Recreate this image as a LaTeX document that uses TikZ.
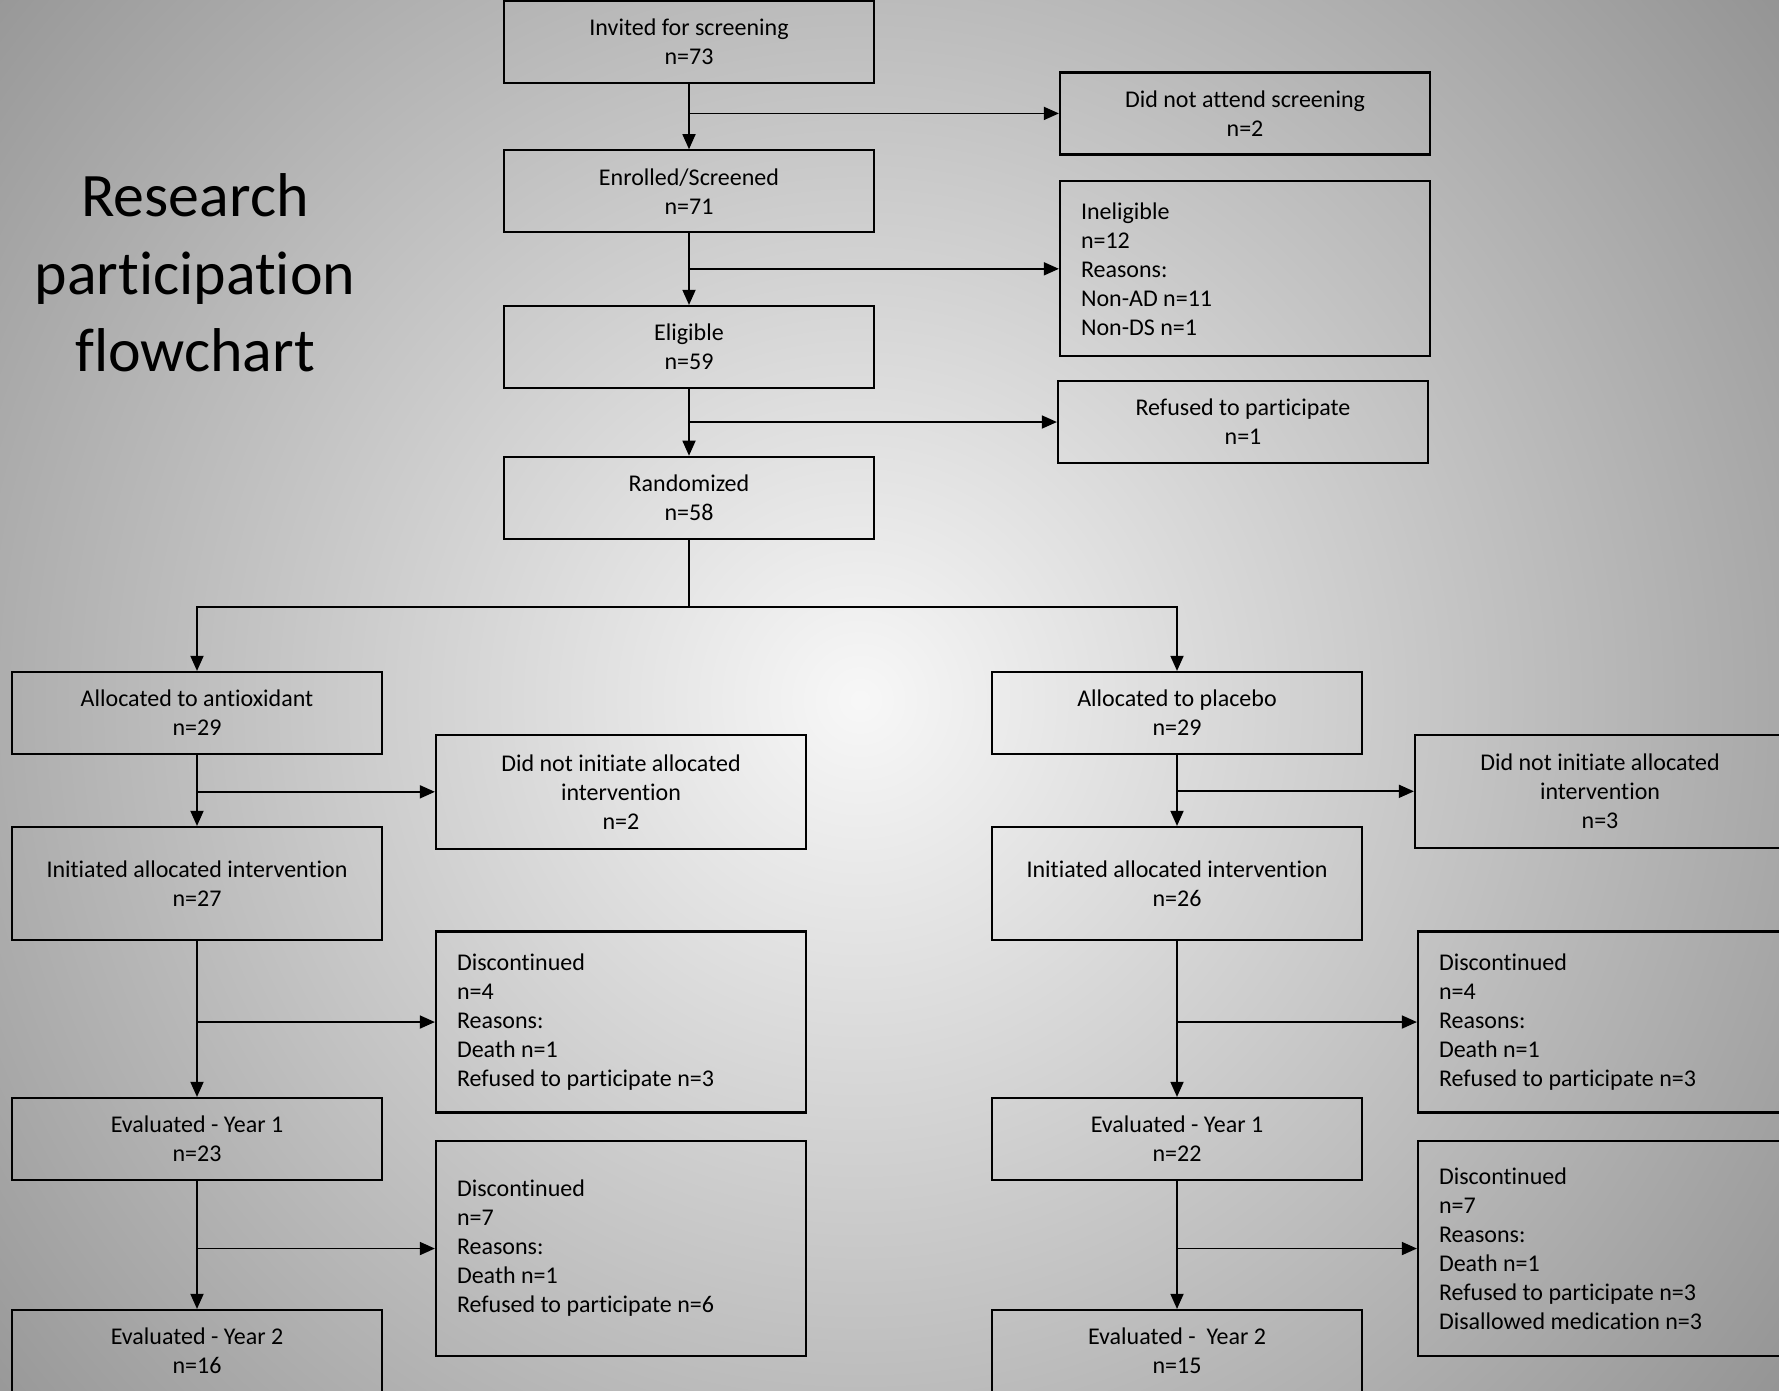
\documentclass[tikz,border=0pt]{standalone}
\usepackage{fontspec}
\setmainfont{Carlito}[Ligatures=NoCommon]
\usetikzlibrary{arrows.meta}
\newcommand{\boxfont}{\fontsize{6.83pt}{8.25pt}\selectfont}
\newcommand{\headfont}{\fontsize{17.6pt}{22pt}\selectfont}
\newcommand{\plainspace}{\spaceskip 0pt\relax\xspaceskip 0pt\relax}

\begin{document}
\begin{tikzpicture}[
  box/.style={draw, line width=0.62pt, minimum width=3.70cm,
              minimum height=0.82cm, align=center, font=\boxfont, inner sep=2pt},
  reason/.style={draw, line width=0.62pt, text width=3.28cm, inner xsep=0.21cm,
                 inner ysep=2pt, align=left, font=\boxfont,
                 execute at begin node=\plainspace},
  arr/.style={-{Triangle[length=4.3pt, width=3.7pt]}, line width=0.52pt},
  link/.style={line width=0.52pt},
  head/.style={font=\headfont, align=center}
]
  % background
  \useasboundingbox (0,0) rectangle (17.79,-13.90);
  \begin{scope}
    \clip (0,0) rectangle (17.79,-13.90);
    \fill[white!58!black] (0,0) rectangle (17.79,-13.90);
    \shade[inner color=white!97!black, outer color=white!58!black]
      (8.6,-7.0) circle (11.6cm);
  \end{scope}

  \node[head] (title) at (1.95,-2.73) {Research\\participation\\flowchart};

  % screening
  \node[box] (inv) at (6.89,-0.42) {Invited for screening\\n=73};
  \node[box] (absent) at (12.45,-1.134) {Did not attend screening\\n=2};
  \node[box] (enr) at (6.89,-1.913) {Enrolled/Screened\\n=71};
  \node[reason, minimum height=1.75cm] (inel) at (12.45,-2.688)
    {Ineligible\\n=12\\Reasons:\\Non-AD n=11\\Non-DS n=1};
  \node[box] (elig) at (6.89,-3.47) {Eligible\\n=59};
  \node[box] (refused) at (12.43,-4.22) {Refused to participate\\n=1};
  \node[box] (rand) at (6.89,-4.978) {Randomized\\n=58};

  % antioxidant arm
  \node[box] (antiox) at (1.97,-7.13) {Allocated to antioxidant\\n=29};
  \node[box, minimum height=1.136cm] (dniA) at (6.21,-7.918)
    {Did not initiate allocated\\intervention\\n=2};
  \node[box, minimum height=1.13cm] (initA) at (1.97,-8.835)
    {Initiated allocated intervention\\n=27};
  \node[reason, minimum height=1.81cm] (discA1) at (6.21,-10.22)
    {Discontinued\\n=4\\Reasons:\\Death n=1\\Refused to participate n=3};
  \node[box] (evalA1) at (1.97,-11.39) {Evaluated - Year 1\\n=23};
  \node[reason, minimum height=2.15cm] (discA2) at (6.21,-12.485)
    {Discontinued\\n=7\\Reasons:\\Death n=1\\Refused to participate n=6};
  \node[box] (evalA2) at (1.97,-13.51) {Evaluated - Year 2\\n=16};

  % placebo arm
  \node[box] (plac) at (11.77,-7.13) {Allocated to placebo\\n=29};
  \node[box, minimum height=1.126cm] (dniP) at (16.00,-7.913)
    {Did not initiate allocated\\intervention\\n=3};
  \node[box, minimum height=1.13cm] (initP) at (11.77,-8.835)
    {Initiated allocated intervention\\n=26};
  \node[reason, minimum height=1.81cm] (discP1) at (16.03,-10.22)
    {Discontinued\\n=4\\Reasons:\\Death n=1\\Refused to participate n=3};
  \node[box] (evalP1) at (11.77,-11.39) {Evaluated - Year 1\\n=22};
  \node[reason, minimum height=2.15cm] (discP2) at (16.03,-12.485)
    {Discontinued\\n=7\\Reasons:\\Death n=1\\Refused to participate n=3\\Disallowed medication n=3};
  \node[box] (evalP2) at (11.77,-13.51) {Evaluated -\ \ Year 2\\n=15};

  % connectors
  \draw[arr] (inv) -- (enr);
  \draw[arr] (inv.south |- absent.west) -- (absent.west);
  \draw[arr] (enr) -- (elig);
  \draw[arr] (enr.south |- inel.west) -- (inel.west);
  \draw[arr] (elig) -- (rand);
  \draw[arr] (elig.south |- refused.west) -- (refused.west);
  \coordinate (split) at (6.89,-6.07);
  \draw[link] (rand) -- (split);
  \draw[arr] (split) -| (antiox);
  \draw[arr] (split) -| (plac);

  \draw[arr] (antiox) -- (initA);
  \draw[arr] (antiox.south |- dniA.west) -- (dniA.west);
  \draw[arr] (initA) -- (evalA1);
  \draw[arr] (initA.south |- discA1.west) -- (discA1.west);
  \draw[arr] (evalA1) -- (evalA2);
  \draw[arr] (evalA1.south |- discA2.west) -- (discA2.west);

  \draw[arr] (plac) -- (initP);
  \draw[arr] (plac.south |- dniP.west) -- (dniP.west);
  \draw[arr] (initP) -- (evalP1);
  \draw[arr] (initP.south |- discP1.west) -- (discP1.west);
  \draw[arr] (evalP1) -- (evalP2);
  \draw[arr] (evalP1.south |- discP2.west) -- (discP2.west);
\end{tikzpicture}
\end{document}
